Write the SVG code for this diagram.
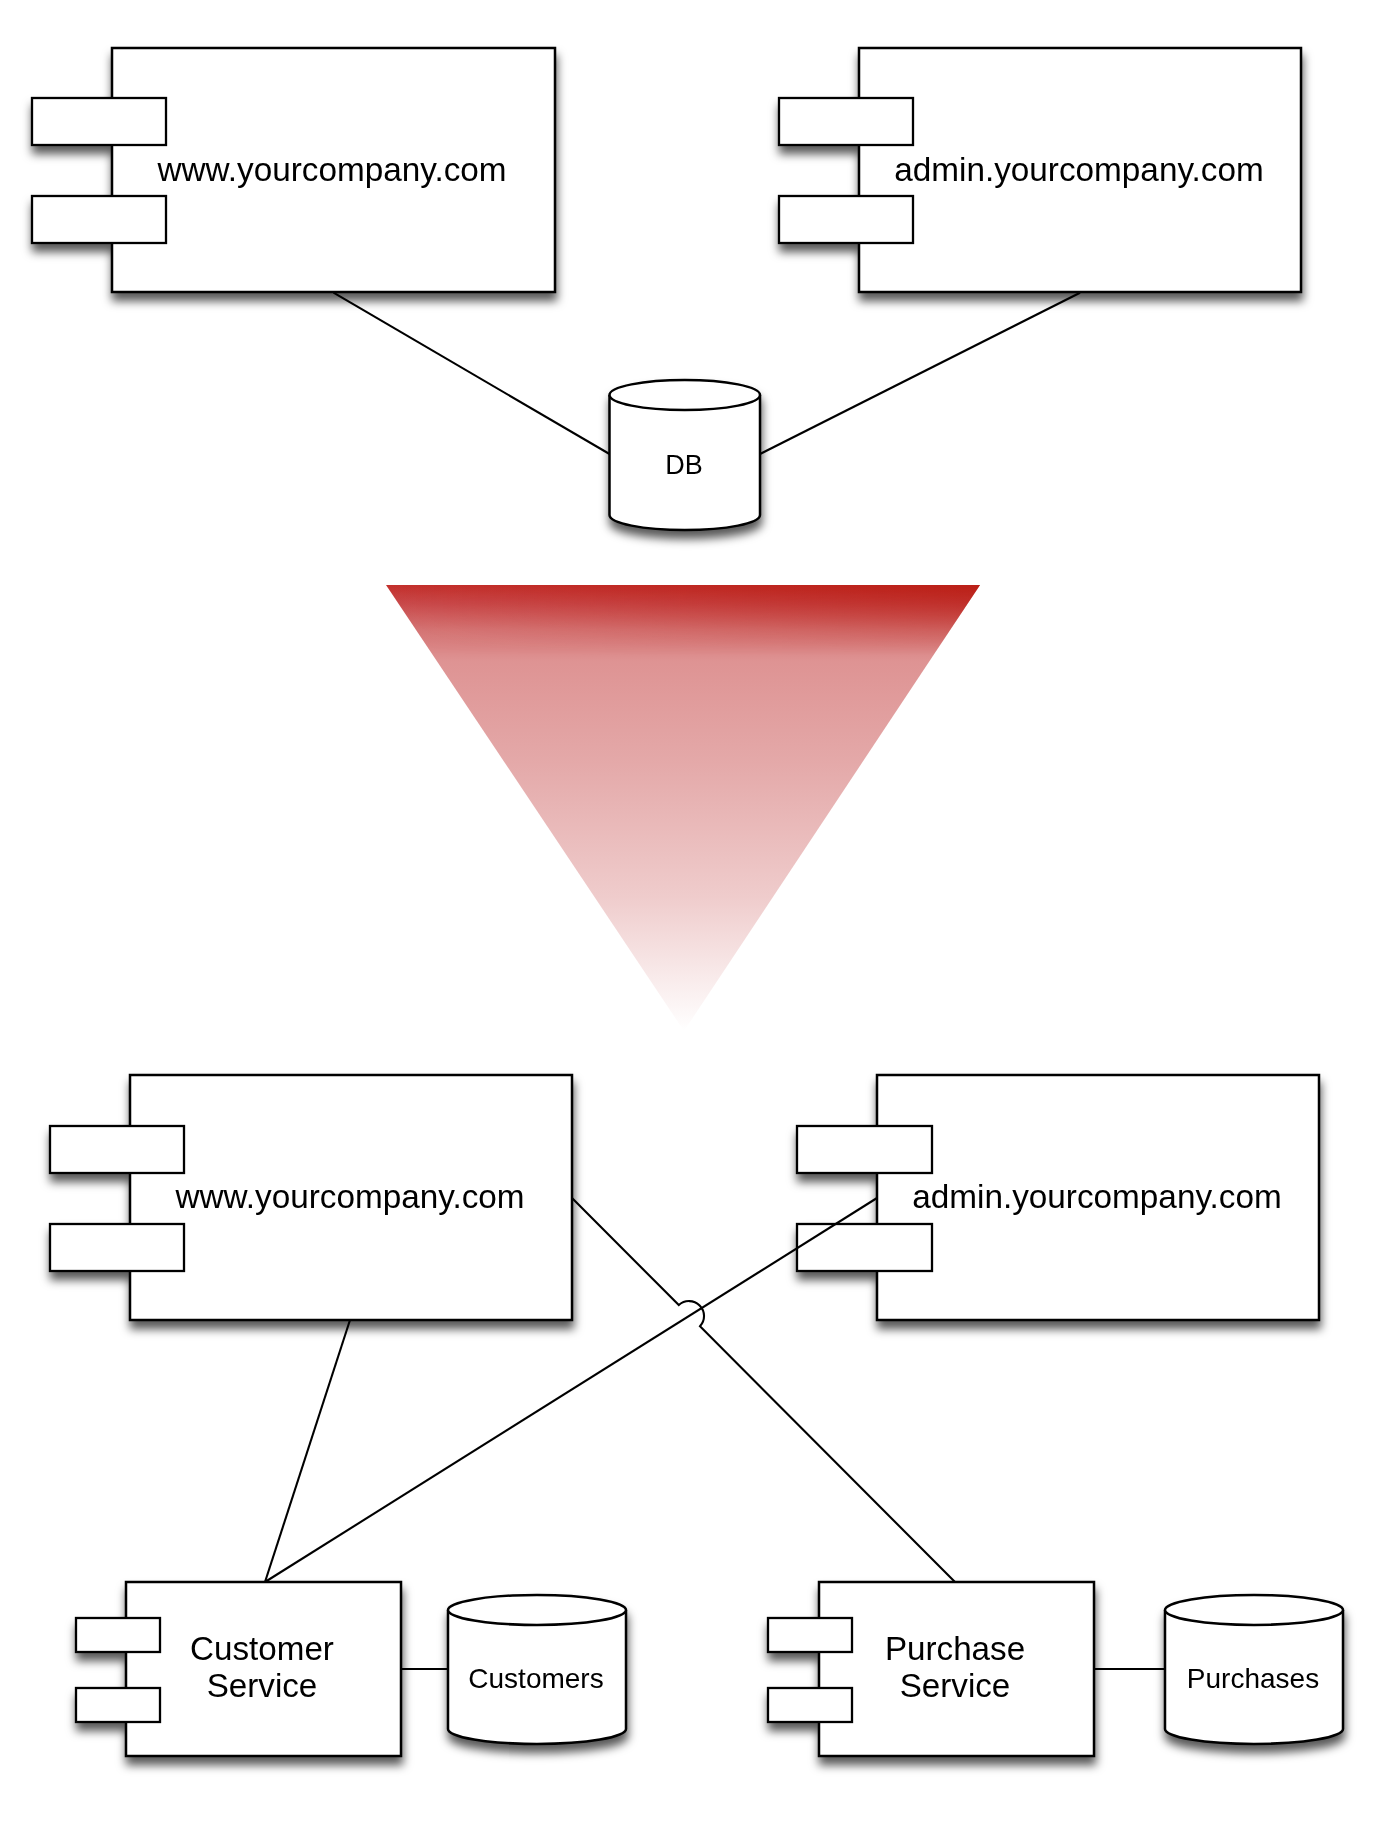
<svg xmlns="http://www.w3.org/2000/svg" width="1397" height="1824" viewBox="0 0 1397 1824">
<style>
.box{fill:#fff;stroke:#000;stroke-width:2.5}
.port{fill:#fff;stroke:#000;stroke-width:2.3}
.cyl{fill:#fff;stroke:#000;stroke-width:2.5}
.conn{fill:none;stroke:#000;stroke-width:2.1}
text{font-family:"Liberation Sans",Arial,Helvetica,sans-serif;fill:#000;text-anchor:middle}
.big{font-size:33.3px}
.mid{font-size:33.2px}
.sm{font-size:28px}
</style>
<defs>
<filter id="sh" x="-10%" y="-10%" width="125%" height="140%">
<feDropShadow dx="1" dy="8" stdDeviation="5" flood-color="#000" flood-opacity="0.65"/>
</filter>
<linearGradient id="tg" x1="0" y1="0" x2="0" y2="1">
<stop offset="0" stop-color="#c3302c"/>
<stop offset="0.04" stop-color="#c9494a"/>
<stop offset="0.1" stop-color="#d57575"/>
<stop offset="0.17" stop-color="#de9393"/>
<stop offset="0.4" stop-color="#e4a9a9"/>
<stop offset="0.7" stop-color="#efcccc"/>
<stop offset="1" stop-color="#ffffff"/>
</linearGradient>
<linearGradient id="tg2" x1="0" y1="0" x2="1" y2="0">
<stop offset="0" stop-color="#b81a10" stop-opacity="0"/>
<stop offset="1" stop-color="#b81a10" stop-opacity="0.75"/>
</linearGradient>
<linearGradient id="tg3" x1="0" y1="0" x2="0" y2="1">
<stop offset="0" stop-color="#fff" stop-opacity="1"/>
<stop offset="1" stop-color="#fff" stop-opacity="0"/>
</linearGradient>
<mask id="tm"><rect x="380" y="585" width="605" height="70" fill="url(#tg3)"/></mask>
</defs>
<rect width="1397" height="1824" fill="#fff"/>

<g id="arrow-triangle">
<polygon points="386,585 980,585 684,1031" fill="url(#tg)"/>
<polygon points="386,585 980,585 684,1031" fill="url(#tg2)" mask="url(#tm)"/>
</g>

<g id="top-www" filter="url(#sh)">
<rect class="box" x="112" y="48" width="443" height="244"/>
<rect class="port" x="32" y="98" width="134" height="47"/>
<rect class="port" x="32" y="196" width="134" height="47"/>
<text class="big" x="332" y="181">www.yourcompany.com</text>
</g>

<g id="top-admin" filter="url(#sh)">
<rect class="box" x="859" y="48" width="442" height="244"/>
<rect class="port" x="779" y="98" width="134" height="47"/>
<rect class="port" x="779" y="196" width="134" height="47"/>
<text class="big" x="1079" y="181">admin.yourcompany.com</text>
</g>

<g id="db" filter="url(#sh)">
<path class="cyl" d="M609.5,395 L609.5,515 A75.25,15 0 0 0 760,515 L760,395 A75.25,15 0 0 0 609.5,395 Z"/>
<path class="cyl" d="M609.5,395 A75.25,15 0 0 0 760,395" fill="none"/>
<text x="684" y="474" style="font-size:27px">DB</text>
</g>

<g id="bottom-www" filter="url(#sh)">
<rect class="box" x="130" y="1075" width="442" height="245"/>
<rect class="port" x="50" y="1126" width="134" height="47"/>
<rect class="port" x="50" y="1224" width="134" height="47"/>
<text class="big" x="350" y="1208">www.yourcompany.com</text>
</g>

<g id="bottom-admin" filter="url(#sh)">
<rect class="box" x="877" y="1075" width="442" height="245"/>
<rect class="port" x="797" y="1126" width="135" height="47"/>
<rect class="port" x="797" y="1224" width="135" height="47"/>
<text class="big" x="1097" y="1208">admin.yourcompany.com</text>
</g>

<g id="customer-service" filter="url(#sh)">
<rect class="box" x="126" y="1582" width="275" height="174"/>
<rect class="port" x="76" y="1618" width="84" height="34"/>
<rect class="port" x="76" y="1688" width="84" height="34"/>
<text class="mid" x="262" y="1660">Customer</text>
<text class="mid" x="262" y="1697">Service</text>
</g>

<g id="customers-db" filter="url(#sh)">
<path class="cyl" d="M448,1610 L448,1729 A89,15 0 0 0 626,1729 L626,1610 A89,15 0 0 0 448,1610 Z"/>
<path class="cyl" d="M448,1610 A89,15 0 0 0 626,1610" fill="none"/>
<text class="sm" x="536" y="1688">Customers</text>
</g>

<g id="purchase-service" filter="url(#sh)">
<rect class="box" x="819" y="1582" width="275" height="174"/>
<rect class="port" x="768" y="1618" width="84" height="34"/>
<rect class="port" x="768" y="1688" width="84" height="34"/>
<text class="mid" x="955" y="1660">Purchase</text>
<text class="mid" x="955" y="1697">Service</text>
</g>

<g id="purchases-db" filter="url(#sh)">
<path class="cyl" d="M1165,1610 L1165,1729 A89,15 0 0 0 1343,1729 L1343,1610 A89,15 0 0 0 1165,1610 Z"/>
<path class="cyl" d="M1165,1610 A89,15 0 0 0 1343,1610" fill="none"/>
<text class="sm" x="1253" y="1688">Purchases</text>
</g>

<g id="connectors">
<path class="conn" d="M333.5,292.7 L609.5,454"/>
<path class="conn" d="M1080,292.7 L760,454"/>
<path class="conn" d="M350,1320 L265,1582"/>
<path class="conn" d="M877,1198 L265,1582"/>
<path class="conn" d="M572,1198 L678.8,1305.1 A15,15 0 0 1 700,1326.3 L955,1582"/>
<path class="conn" d="M401,1669 L448,1669"/>
<path class="conn" d="M1094,1669 L1165,1669"/>
</g>
</svg>
